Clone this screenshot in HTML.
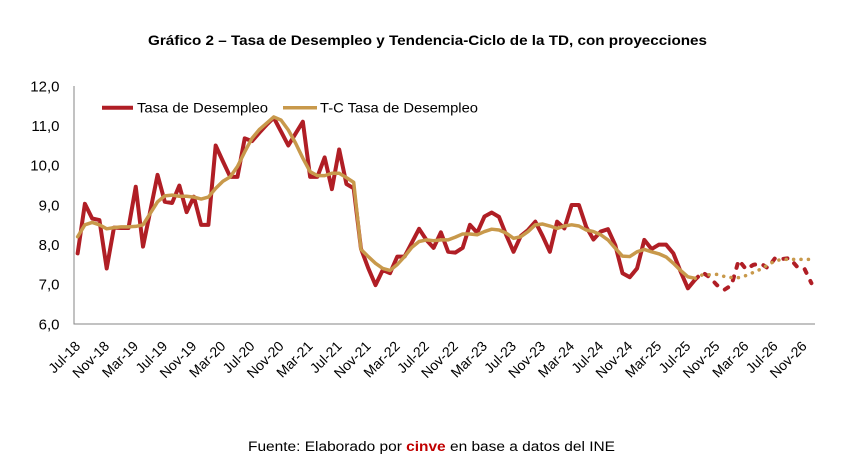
<!DOCTYPE html>
<html><head><meta charset="utf-8"><style>
html,body{margin:0;padding:0;background:#fff;}
svg{display:block;font-family:"Liberation Sans",Arial,sans-serif;}
</style></head><body>
<svg width="848" height="467" viewBox="0 0 848 467" xmlns="http://www.w3.org/2000/svg">
<rect width="848" height="467" fill="#fff"/>
<text x="148" y="45" font-size="14" font-weight="bold" fill="#000" textLength="559" lengthAdjust="spacingAndGlyphs">Gráfico 2 – Tasa de Desempleo y Tendencia-Ciclo de la TD, con proyecciones</text>

<g font-size="15" fill="#000" text-anchor="end">
<text x="59.5" y="91.3">12,0</text>
<text x="59.5" y="131">11,0</text>
<text x="59.5" y="170.6">10,0</text>
<text x="59.5" y="210.3">9,0</text>
<text x="59.5" y="250">8,0</text>
<text x="59.5" y="289.6">7,0</text>
<text x="59.5" y="329.3">6,0</text>
</g>

<line x1="74" y1="86" x2="74" y2="324.5" stroke="#868686" stroke-width="1"/>
<line x1="74" y1="324" x2="815" y2="324" stroke="#868686" stroke-width="1"/>

<!-- Red main series -->
<g transform="translate(77.63,562) scale(7.265,-39.667)">
<polyline fill="none" stroke="#B01E25" stroke-width="4" vector-effect="non-scaling-stroke" stroke-linejoin="round" stroke-linecap="round" points="0,7.78 1,9.03 2,8.66 3,8.62 4,7.40 5,8.43 6,8.42 7,8.42 8,9.46 9,7.95 10,8.85 11,9.76 12,9.08 13,9.05 14,9.49 15,8.82 16,9.21 17,8.50 18,8.50 19,10.50 20,10.10 21,9.71 22,9.71 23,10.68 24,10.61 25,10.82 26,11.02 27,11.20 28,10.85 29,10.50 30,10.80 31,11.10 32,9.71 33,9.71 34,10.20 35,9.40 36,10.40 37,9.53 38,9.42 39,7.90 40,7.41 41,6.98 42,7.36 43,7.28 44,7.70 45,7.70 46,8.05 47,8.40 48,8.12 49,7.92 50,8.31 51,7.82 52,7.80 53,7.92 54,8.50 55,8.30 56,8.71 57,8.81 58,8.70 59,8.24 60,7.82 61,8.22 62,8.37 63,8.58 64,8.22 65,7.82 66,8.58 67,8.41 68,9.00 69,9.00 70,8.45 71,8.13 72,8.33 73,8.39 74,7.99 75,7.28 76,7.18 77,7.40 78,8.12 79,7.89 80,8.00 81,8.00 82,7.78 83,7.32 84,6.90 85,7.12"/>
<polyline fill="none" stroke="#C8994B" stroke-width="3.5" vector-effect="non-scaling-stroke" stroke-linejoin="round" stroke-linecap="round" points="0,8.20 1,8.50 2,8.56 3,8.50 4,8.40 5,8.43 6,8.45 7,8.45 8,8.46 9,8.50 10,8.79 11,9.08 12,9.23 13,9.25 14,9.22 15,9.22 16,9.20 17,9.15 18,9.20 19,9.42 20,9.60 21,9.71 22,9.97 23,10.34 24,10.68 25,10.90 26,11.06 27,11.22 28,11.14 29,10.89 30,10.56 31,10.18 32,9.84 33,9.74 34,9.74 35,9.80 36,9.80 37,9.69 38,9.57 39,7.88 40,7.70 41,7.53 42,7.40 43,7.35 44,7.50 45,7.70 46,7.93 47,8.08 48,8.12 49,8.10 50,8.12 51,8.12 52,8.19 53,8.27 54,8.27 55,8.25 56,8.33 57,8.39 58,8.37 59,8.29 60,8.16 61,8.20 62,8.33 63,8.50 64,8.52 65,8.47 66,8.41 67,8.47 68,8.50 69,8.47 70,8.37 71,8.33 72,8.25 73,8.12 74,7.91 75,7.71 76,7.70 77,7.82 78,7.88 79,7.82 80,7.77 81,7.69 82,7.53 83,7.35 84,7.19 85,7.15"/>
</g>

<!-- Forecast: red dashed -->
<polyline fill="none" stroke="#B01E25" stroke-width="4" stroke-linejoin="round" stroke-linecap="round" stroke-dasharray="4 9" points="695.16,279.57 702.42,272.43 709.69,277.19 716.95,285.12 724.22,289.88 731.48,285.12 738.75,260.13 746.01,269.26 753.28,264.89 760.54,263.31 767.81,268.07 775.07,258.15 782.34,258.94 789.60,258.15 796.87,266.48 804.13,268.07 811.40,283.14"/>
<!-- Forecast: tan dotted -->
<polyline fill="none" stroke="#C8994B" stroke-width="3.5" stroke-linejoin="round" stroke-linecap="round" stroke-dasharray="0.1 7.3" points="695.16,278.38 702.42,274.81 709.69,274.81 716.95,274.41 724.22,276.40 731.48,277.59 738.75,277.59 746.01,275.60 753.28,272.43 760.54,269.26 767.81,264.89 775.07,260.93 782.34,259.34 789.60,259.34 796.87,259.34 804.13,259.34 811.40,259.34"/>

<!-- Legend -->
<line x1="102" y1="107.7" x2="133" y2="107.7" stroke="#B01E25" stroke-width="4"/>
<text x="137" y="112.5" font-size="14" fill="#000" textLength="131" lengthAdjust="spacingAndGlyphs">Tasa de Desempleo</text>
<line x1="283" y1="107.7" x2="317" y2="107.7" stroke="#C8994B" stroke-width="3.5"/>
<text x="320" y="112.5" font-size="14" fill="#000" textLength="158" lengthAdjust="spacingAndGlyphs">T-C Tasa de Desempleo</text>

<!-- X labels -->
<g font-size="14" fill="#000" text-anchor="end">
<text transform="translate(81.1,347) rotate(-45)">Jul-18</text>
<text transform="translate(110.2,347) rotate(-45)">Nov-18</text>
<text transform="translate(139.2,347) rotate(-45)">Mar-19</text>
<text transform="translate(168.3,347) rotate(-45)">Jul-19</text>
<text transform="translate(197.4,347) rotate(-45)">Nov-19</text>
<text transform="translate(226.4,347) rotate(-45)">Mar-20</text>
<text transform="translate(255.5,347) rotate(-45)">Jul-20</text>
<text transform="translate(284.6,347) rotate(-45)">Nov-20</text>
<text transform="translate(313.6,347) rotate(-45)">Mar-21</text>
<text transform="translate(342.7,347) rotate(-45)">Jul-21</text>
<text transform="translate(371.7,347) rotate(-45)">Nov-21</text>
<text transform="translate(400.8,347) rotate(-45)">Mar-22</text>
<text transform="translate(429.9,347) rotate(-45)">Jul-22</text>
<text transform="translate(458.9,347) rotate(-45)">Nov-22</text>
<text transform="translate(488.0,347) rotate(-45)">Mar-23</text>
<text transform="translate(517.0,347) rotate(-45)">Jul-23</text>
<text transform="translate(546.1,347) rotate(-45)">Nov-23</text>
<text transform="translate(575.2,347) rotate(-45)">Mar-24</text>
<text transform="translate(604.2,347) rotate(-45)">Jul-24</text>
<text transform="translate(633.3,347) rotate(-45)">Nov-24</text>
<text transform="translate(662.3,347) rotate(-45)">Mar-25</text>
<text transform="translate(691.4,347) rotate(-45)">Jul-25</text>
<text transform="translate(720.5,347) rotate(-45)">Nov-25</text>
<text transform="translate(749.5,347) rotate(-45)">Mar-26</text>
<text transform="translate(778.6,347) rotate(-45)">Jul-26</text>
<text transform="translate(807.6,347) rotate(-45)">Nov-26</text>
</g>

<text x="248" y="451" font-size="13.5" fill="#000" textLength="367" lengthAdjust="spacingAndGlyphs">Fuente: Elaborado por <tspan font-weight="bold" fill="#C00000">cinve</tspan> en base a datos del INE</text>
</svg>
</body></html>
